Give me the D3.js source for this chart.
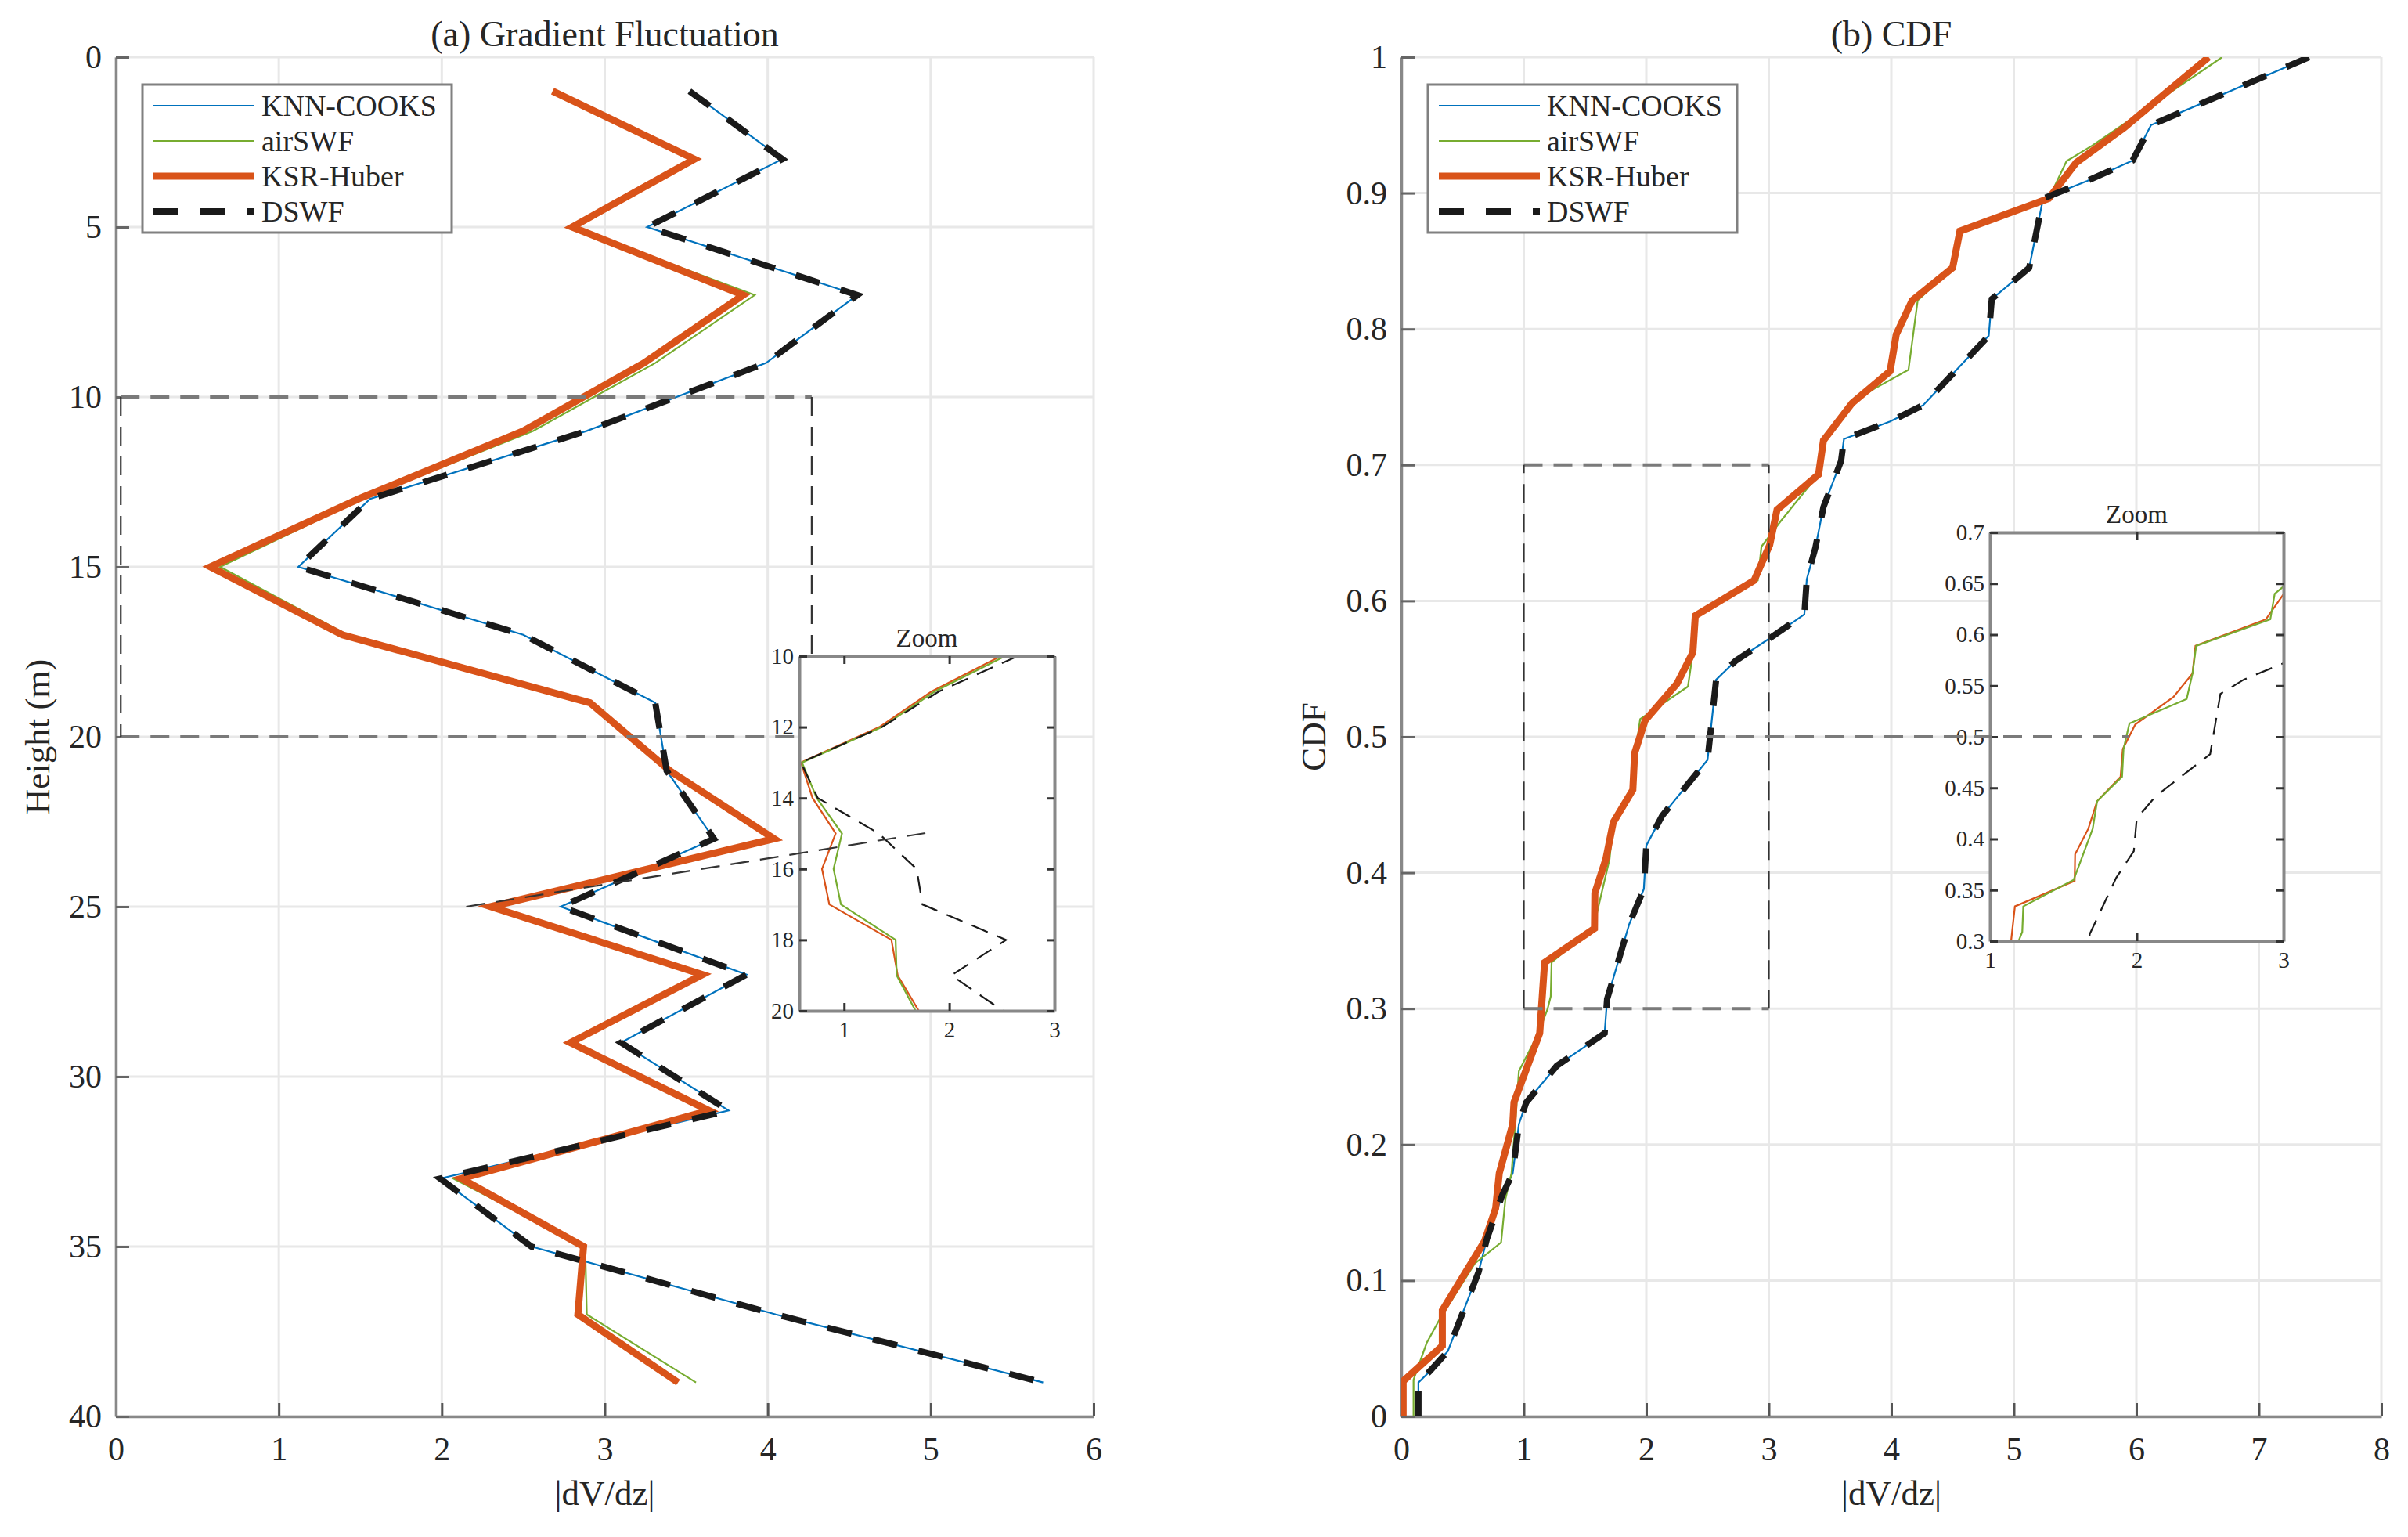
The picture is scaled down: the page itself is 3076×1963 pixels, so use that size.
<!DOCTYPE html>
<html><head><meta charset="utf-8">
<script src="https://cdn.jsdelivr.net/npm/d3@7"></script>
<style>
body{margin:0;background:#fff}
svg{display:block}
text{font-family:"Liberation Serif","Times New Roman",serif;fill:#262626}
</style>
</head><body>
<svg id="c" width="3076" height="1963"></svg>
<script>
// ---------------- DATA ----------------
const seriesNames = ["KNN-COOKS", "airSWF", "KSR-Huber", "DSWF"];

// (a) Gradient fluctuation: heights (m) and |dV/dz|
const heights   = [1,3,5,7,9,11,13,15,17,19,21,23,25,27,29,31,33,35,37,39];
const knnCooks  = [3.52,4.09,3.26,4.55,3.99,2.89,1.56,1.12,2.50,3.31,3.38,3.67,2.73,3.87,3.10,3.76,1.99,2.55,4.05,5.69];
const airSWF    = [2.68,3.55,2.80,3.92,3.31,2.56,1.51,0.64,1.42,2.91,3.40,4.02,2.32,3.60,2.79,3.64,2.07,2.88,2.89,3.56];
const ksrHuber  = [2.68,3.55,2.80,3.85,3.24,2.50,1.49,0.58,1.39,2.91,3.40,4.04,2.30,3.60,2.79,3.64,2.12,2.87,2.835,3.45];
const dswf      = [3.52,4.09,3.26,4.55,3.99,2.89,1.56,1.12,2.50,3.31,3.38,3.67,2.73,3.87,3.10,3.76,1.99,2.55,4.05,5.69];

// (a) zoom inset
const zoomHeights  = [10,11,12,13,14,15,16,17,18,19,20];
const zoomAirSWF   = [2.53,1.86,1.36,0.60,0.74,0.98,0.90,0.97,1.49,1.50,1.68];
const zoomKsrHuber = [2.49,1.83,1.335,0.59,0.70,0.92,0.79,0.86,1.45,1.51,1.71];
const zoomDswf     = [2.65,1.90,1.36,0.59,0.75,1.33,1.69,1.745,2.54,2.02,2.51];

// (b) CDF curves: [|dV/dz|, CDF]
const cdfKnnCooks = [[0.14,0],[0.14,0.025],[0.23,0.033],[0.38,0.048],[0.44,0.062],[0.63,0.106],[0.70,0.131],[0.825,0.163],[0.91,0.179],[0.96,0.215],[1.02,0.231],[1.27,0.258],[1.66,0.282],[1.68,0.307],[1.86,0.362],[1.98,0.388],[2.00,0.42],[2.13,0.442],[2.50,0.483],[2.57,0.542],[2.73,0.556],[3.0,0.572],[3.29,0.59],[3.31,0.616],[3.38,0.639],[3.446,0.669],[3.59,0.703],[3.613,0.719],[3.99,0.732],[4.26,0.744],[4.795,0.795],[4.82,0.822],[5.125,0.845],[5.23,0.892],[5.24,0.896],[5.60,0.909],[5.97,0.924],[6.12,0.950],[7.41,1.0]];
const cdfAirSWF   = [[0.10,0],[0.10,0.027],[0.207,0.054],[0.31,0.071],[0.60,0.1125],[0.815,0.128],[0.85,0.16],[0.90,0.179],[0.93,0.215],[0.96,0.254],[1.12,0.282],[1.195,0.30],[1.22,0.309],[1.227,0.334],[1.57,0.36],[1.70,0.41],[1.73,0.437],[1.90,0.461],[1.91,0.488],[1.95,0.513],[2.34,0.537],[2.38,0.562],[2.405,0.589],[2.91,0.615],[2.94,0.64],[3.10,0.659],[3.406,0.693],[3.446,0.718],[3.68,0.7455],[3.86,0.756],[4.14,0.770],[4.215,0.821],[4.50,0.845],[4.56,0.872],[5.285,0.896],[5.43,0.9235],[5.64,0.935],[6.70,1.0]];
const cdfKsrHuber = [[0.015,0],[0.015,0.026],[0.335,0.052],[0.335,0.078],[0.68,0.129],[0.77,0.153],[0.80,0.179],[0.91,0.215],[0.92,0.231],[1.13,0.282],[1.17,0.334],[1.577,0.359],[1.58,0.385],[1.67,0.41],[1.73,0.437],[1.89,0.461],[1.905,0.488],[1.99,0.512],[2.25,0.539],[2.38,0.562],[2.40,0.589],[2.88,0.615],[3.007,0.641],[3.067,0.667],[3.406,0.693],[3.446,0.718],[3.68,0.7455],[3.99,0.769],[4.04,0.796],[4.17,0.821],[4.50,0.845],[4.56,0.872],[5.285,0.896],[5.51,0.9225],[5.90,0.948],[6.59,1.0]];
const cdfDswf     = cdfKnnCooks;

// tick labels
const xTicksA = [0,1,2,3,4,5,6];
const yTicksA = [0,5,10,15,20,25,30,35,40];
const xTicksB = [0,1,2,3,4,5,6,7,8];
const yTicksB = [0,0.1,0.2,0.3,0.4,0.5,0.6,0.7,0.8,0.9,1];
const zoomXTicksA = [1,2,3];
const zoomYTicksA = [10,12,14,16,18,20];
const zoomXTicksB = [1,2,3];
const zoomYTicksB = [0.3,0.35,0.4,0.45,0.5,0.55,0.6,0.65,0.7];

// ---------------- STYLE ----------------
const W = 3076, H = 1963;
const FONT = '"Liberation Serif","Times New Roman",serif';
const styles = {
  "KNN-COOKS": {color:"#0072BD", w:2.2, dash:null},
  "airSWF":    {color:"#77AC30", w:2.2, dash:null},
  "KSR-Huber": {color:"#D95319", w:9,   dash:null},
  "DSWF":      {color:"#1a1a1a", w:8,   dash:"32,28"}
};
const insetStyles = {
  "airSWF":    {color:"#77AC30", w:2.2, dash:null},
  "KSR-Huber": {color:"#D95319", w:2.2, dash:null},
  "DSWF":      {color:"#1a1a1a", w:2.2, dash:"22,13"}
};

const svg = d3.select("#c");
svg.append("rect").attr("width",W).attr("height",H).attr("fill","#fff");

let clipId = 0;
function makeClip(x, y){
  const id = "clip"+(clipId++);
  const [xa,xb] = x.range(); const ys = y.range();
  svg.append("clipPath").attr("id",id).append("rect")
    .attr("x",Math.min(xa,xb)).attr("y",Math.min(...ys))
    .attr("width",Math.abs(xb-xa)).attr("height",Math.abs(ys[1]-ys[0]));
  return id;
}

function styleAxis(g, fontSize, tickColor, domainColor, domainW){
  g.attr("font-family",FONT).attr("font-size",fontSize);
  g.selectAll(".tick text").attr("fill","#262626").style("fill","#262626");
  g.selectAll(".tick line").attr("stroke",tickColor).attr("stroke-width",3);
  g.select(".domain").attr("stroke",domainColor).attr("stroke-width",domainW);
}

function mainPanel(x, y, xt, yt, yfmt, title, ylabel, ylabelX){
  const [L,R] = x.range();
  const top = Math.min(...y.range()), bot = Math.max(...y.range());
  const g = svg.append("g");
  // grid
  g.selectAll(null).data(xt).join("line")
    .attr("x1",d=>x(d)).attr("x2",d=>x(d)).attr("y1",top).attr("y2",bot)
    .attr("stroke","#e8e8e8").attr("stroke-width",3);
  g.selectAll(null).data(yt).join("line")
    .attr("x1",L).attr("x2",R).attr("y1",d=>y(d)).attr("y2",d=>y(d))
    .attr("stroke","#e8e8e8").attr("stroke-width",3);
  // axes (ticks inward)
  const ax = g.append("g").attr("transform",`translate(0,${bot})`)
    .call(d3.axisBottom(x).tickValues(xt).tickSizeInner(-17).tickSizeOuter(0).tickPadding(26).tickFormat(d3.format("d")));
  styleAxis(ax, 42, "#555", "#888", 3.5);
  const ay = g.append("g").attr("transform",`translate(${L},0)`)
    .call(d3.axisLeft(y).tickValues(yt).tickSizeInner(-17).tickSizeOuter(0).tickPadding(18).tickFormat(yfmt));
  styleAxis(ay, 42, "#666", "#888", 3.5);
  // title & labels
  svg.append("text").attr("x",(L+R)/2).attr("y",43).attr("dy","0.35em")
    .attr("text-anchor","middle").attr("font-size",46).text(title);
  svg.append("text").attr("x",(L+R)/2).attr("y",1906).attr("dy","0.35em")
    .attr("text-anchor","middle").attr("font-size",45).text("|dV/dz|");
  svg.append("text").attr("transform",`translate(${ylabelX},${(top+bot)/2}) rotate(-90)`)
    .attr("dy","0.35em").attr("text-anchor","middle").attr("font-size",45).text(ylabel);
}

function drawSeries(parent, pts, st, x, y, clip){
  const line = d3.line().x(d=>x(d[0])).y(d=>y(d[1]));
  const p = parent.append("path").datum(pts).attr("d",line)
    .attr("fill","none").attr("stroke",st.color).attr("stroke-width",st.w)
    .attr("stroke-linejoin","miter").attr("stroke-miterlimit",4)
    .attr("clip-path",`url(#${clip})`);
  if(st.dash) p.attr("stroke-dasharray",st.dash);
}

function legend(left, top){
  const g = svg.append("g");
  const w = 395, h = 189;
  g.append("rect").attr("x",left).attr("y",top).attr("width",w).attr("height",h)
    .attr("fill","#fff").attr("stroke","#808080").attr("stroke-width",3);
  seriesNames.forEach((n,i)=>{
    const cy = top + 27 + i*45;
    const st = styles[n];
    const l = g.append("line").attr("x1",left+14).attr("x2",left+143).attr("y1",cy).attr("y2",cy)
      .attr("stroke",st.color).attr("stroke-width",st.w);
    if(st.dash) l.attr("stroke-dasharray",st.dash);
    g.append("text").attr("x",left+152).attr("y",cy).attr("dy","0.35em")
      .attr("font-size",38).text(n);
  });
}

function dashedRect(x, y, x0, x1, y0, y1){
  const g = svg.append("g").attr("fill","none");
  [[x0,y0,x1,y0],[x0,y1,x1,y1]].forEach(s=>{
    g.append("line").attr("x1",x(s[0])).attr("y1",y(s[1])).attr("x2",x(s[2])).attr("y2",y(s[3]))
      .attr("stroke","#7a7a7a").attr("stroke-width",4).attr("stroke-dasharray","24,14");
  });
  [[x0,y0,x0,y1],[x1,y0,x1,y1]].forEach(s=>{
    g.append("line").attr("x1",x(s[0])).attr("y1",y(s[1])).attr("x2",x(s[2])).attr("y2",y(s[3]))
      .attr("stroke","#333").attr("stroke-width",2.2).attr("stroke-dasharray","24,14");
  });
}

function inset(x, y, xt, yt, yfmt, series){
  const [L,R] = x.range();
  const top = Math.min(...y.range()), bot = Math.max(...y.range());
  const g = svg.append("g");
  g.append("rect").attr("x",L).attr("y",top).attr("width",R-L).attr("height",bot-top).attr("fill","#fff");
  const clip = makeClip(x,y);
  series.forEach(s=>drawSeries(g, s.pts, insetStyles[s.name], x, y, clip));
  const ab = g.append("g").attr("transform",`translate(0,${bot})`)
    .call(d3.axisBottom(x).tickValues(xt).tickSizeInner(-10).tickSizeOuter(0).tickPadding(13).tickFormat(d3.format("d")));
  const at = g.append("g").attr("transform",`translate(0,${top})`)
    .call(d3.axisTop(x).tickValues(xt).tickSizeInner(-10).tickSizeOuter(0).tickFormat(""));
  const al = g.append("g").attr("transform",`translate(${L},0)`)
    .call(d3.axisLeft(y).tickValues(yt).tickSizeInner(-10).tickSizeOuter(0).tickPadding(7).tickFormat(yfmt));
  const ar = g.append("g").attr("transform",`translate(${R},0)`)
    .call(d3.axisRight(y).tickValues(yt).tickSizeInner(-10).tickSizeOuter(0).tickFormat(""));
  [ab,at,al,ar].forEach(a=>styleAxis(a, 29, "#333", "#888", 4));
  svg.append("text").attr("x",(L+R)/2).attr("y",top-24).attr("dy","0.35em")
    .attr("text-anchor","middle").attr("font-size",33).text("Zoom");
}

// ---------------- PANEL (a) ----------------
const xA = d3.scaleLinear().domain([0,6]).range([148,1397]);
const yA = d3.scaleLinear().domain([0,40]).range([73,1809]);
mainPanel(xA, yA, xTicksA, yTicksA, d3.format("d"), "(a) Gradient Fluctuation", "Height (m)", 47);
const clipA = makeClip(xA,yA);
const gA = svg.append("g");
const seriesA = {"KNN-COOKS":knnCooks, "airSWF":airSWF, "KSR-Huber":ksrHuber, "DSWF":dswf};
seriesNames.forEach(n=>drawSeries(gA, seriesA[n].map((v,i)=>[v,heights[i]]), styles[n], xA, yA, clipA));
dashedRect(xA, yA, 0.03, 4.27, 10, 20);
const xZA = d3.scaleLinear().domain([0.574,3]).range([1021,1347]);
const yZA = d3.scaleLinear().domain([10,20]).range([838,1291]);
inset(xZA, yZA, zoomXTicksA, zoomYTicksA, d3.format("d"), [
  {name:"KSR-Huber", pts: zoomKsrHuber.map((v,i)=>[v,zoomHeights[i]])},
  {name:"airSWF",    pts: zoomAirSWF.map((v,i)=>[v,zoomHeights[i]])},
  {name:"DSWF",      pts: zoomDswf.map((v,i)=>[v,zoomHeights[i]])}
]);
svg.append("line").attr("x1",xA(2.15)).attr("y1",yA(25)).attr("x2",xZA(1.79)).attr("y2",yZA(14.98))
  .attr("stroke","#333").attr("stroke-width",2.2).attr("stroke-dasharray","24,14");
legend(182, 108);

// ---------------- PANEL (b) ----------------
const xB = d3.scaleLinear().domain([0,8]).range([1790,3042]);
const yB = d3.scaleLinear().domain([0,1]).range([1809,73]);
const fmtB = d => (d===0||d===1) ? String(d) : d3.format(".1f")(d);
mainPanel(xB, yB, xTicksB, yTicksB, fmtB, "(b) CDF", "CDF", 1677);
const clipB = makeClip(xB,yB);
const gB = svg.append("g");
const seriesB = {"KNN-COOKS":cdfKnnCooks, "airSWF":cdfAirSWF, "KSR-Huber":cdfKsrHuber, "DSWF":cdfDswf};
seriesNames.forEach(n=>drawSeries(gB, seriesB[n], styles[n], xB, yB, clipB));
dashedRect(xB, yB, 1, 3, 0.3, 0.7);
const xZB = d3.scaleLinear().domain([1,3]).range([2542,2917]);
const yZB = d3.scaleLinear().domain([0.3,0.7]).range([1202,680]);
inset(xZB, yZB, zoomXTicksB, zoomYTicksB, d=>String(+d.toFixed(2)), [
  {name:"KSR-Huber", pts: cdfKsrHuber},
  {name:"airSWF",    pts: cdfAirSWF},
  {name:"DSWF",      pts: cdfDswf}
]);
svg.append("line").attr("x1",xB(2.0)).attr("y1",yB(0.5)).attr("x2",xZB(1.95)).attr("y2",yZB(0.5))
  .attr("stroke","#7a7a7a").attr("stroke-width",4).attr("stroke-dasharray","24,14");
legend(1824, 108);
</script>
</body></html>
